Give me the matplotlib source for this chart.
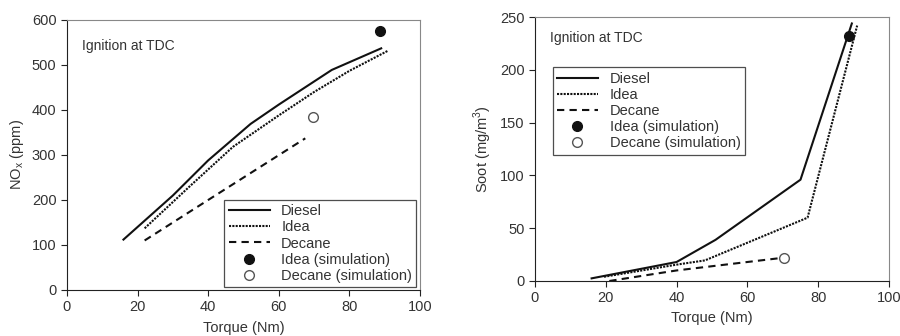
import numpy as np
import matplotlib.pyplot as plt

# NOx panel
nox_diesel_x = [16, 30, 40, 52, 60, 75, 89]
nox_diesel_y = [112, 210, 288, 369, 412, 489, 537]
nox_idea_x = [22, 35, 47, 60, 70, 80, 91]
nox_idea_y = [137, 232, 318, 388, 440, 487, 532]
nox_decane_x = [22, 40, 67.5]
nox_decane_y = [110, 200, 337]
nox_idea_sim = (88.7, 576)
nox_decane_sim = (69.6, 385)

# Soot panel
soot_diesel_x = [16, 40, 51, 75, 89.5]
soot_diesel_y = [2.5, 18, 39, 96, 244]
soot_idea_x = [19.5, 40, 48, 77, 91]
soot_idea_y = [4, 15.5, 19.5, 60, 242]
soot_decane_x = [21, 40, 70]
soot_decane_y = [0, 10, 22]
soot_idea_sim = (88.7, 232)
soot_decane_sim = (70.2, 22)

plt.rcParams['font.family'] = ['Liberation Sans', 'DejaVu Sans']
plt.rcParams['xtick.direction'] = 'out'
plt.rcParams['ytick.direction'] = 'out'
txt = '#333333'
fs = 10.5

fig = plt.figure(figsize=(9, 3.36), dpi=100)
ax1 = fig.add_axes([0.0744, 0.137, 0.3923, 0.8035])
ax2 = fig.add_axes([0.5944, 0.1637, 0.3934, 0.7853])


def style(ax):
    for s in ['top', 'right']:
        ax.spines[s].set_color('#888888')
    for s in ['left', 'bottom']:
        ax.spines[s].set_color('#222222')
    ax.tick_params(top=False, right=False, length=4, labelsize=fs)
    ax.tick_params(axis='both', colors='#222222', labelcolor=txt)


def draw(ax, dx, dy, ix, iy, cx, cy, isim, csim):
    ax.plot(dx, dy, color='#111111', lw=1.5, ls='-', label='Diesel')
    ax.plot(ix, iy, color='#111111', lw=1.5, ls=(0, (1, 0.6)), label='Idea')
    ax.plot(cx, cy, color='#111111', lw=1.5, ls=(0, (3.5, 2.5)), label='Decane')
    ax.plot(*isim, 'o', color='#111111', ms=7, label='Idea (simulation)')
    ax.plot(*csim, 'o', mfc='white', mec='#555555', mew=1, ms=7,
            label='Decane (simulation)')


def legend(ax, **kw):
    leg = ax.legend(fontsize=fs, frameon=True, fancybox=False,
                    edgecolor='#222222', borderpad=0.3, labelspacing=0.15,
                    handlelength=2.8, handletextpad=0.8, borderaxespad=0.0,
                    **kw)
    leg.get_frame().set_linewidth(0.9)
    for t in leg.get_texts():
        t.set_color(txt)


draw(ax1, nox_diesel_x, nox_diesel_y, nox_idea_x, nox_idea_y,
     nox_decane_x, nox_decane_y, nox_idea_sim, nox_decane_sim)
ax1.set_xlim(0, 100)
ax1.set_ylim(0, 600)
ax1.set_xticks(np.arange(0, 101, 20))
ax1.set_yticks(np.arange(0, 601, 100))
ax1.set_xlabel('Torque (Nm)', fontsize=fs, color=txt, labelpad=5)
ax1.set_ylabel(r'NO$_\mathregular{x}$ (ppm)', fontsize=fs, color=txt)
ax1.text(4.4, 542, 'Ignition at TDC', fontsize=fs - 0.5, color=txt, va='center')
style(ax1)
legend(ax1, loc='lower right', bbox_to_anchor=(0.99, 0.01))

draw(ax2, soot_diesel_x, soot_diesel_y, soot_idea_x, soot_idea_y,
     soot_decane_x, soot_decane_y, soot_idea_sim, soot_decane_sim)
ax2.set_xlim(0, 100)
ax2.set_ylim(0, 250)
ax2.set_xticks(np.arange(0, 101, 20))
ax2.set_yticks(np.arange(0, 251, 50))
ax2.set_xlabel('Torque (Nm)', fontsize=fs, color=txt, labelpad=4)
ax2.set_ylabel(r'Soot (mg/m$^\mathregular{3}$)', fontsize=fs, color=txt)
ax2.text(4.2, 230, 'Ignition at TDC', fontsize=fs - 0.5, color=txt, va='center')
style(ax2)
legend(ax2, loc='upper left', bbox_to_anchor=(0.05, 0.81))

fig.savefig('out.png', dpi=100)
